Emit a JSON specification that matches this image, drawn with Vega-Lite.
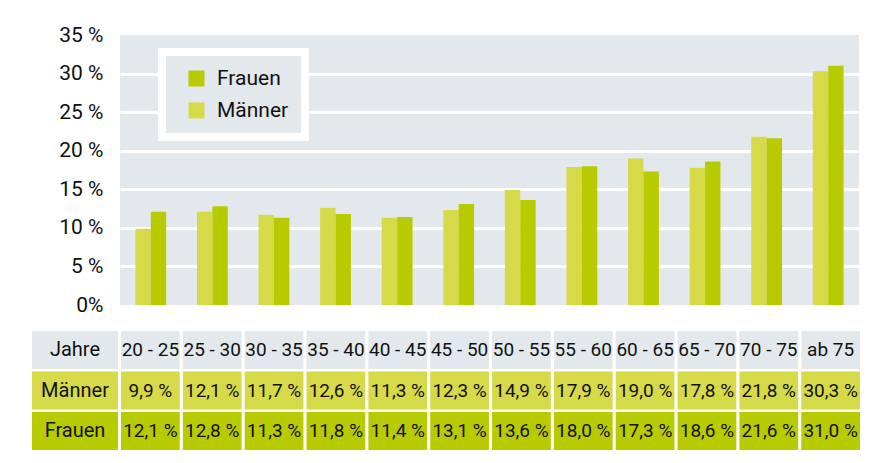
{
  "$schema": "https://vega.github.io/schema/vega-lite/v6.json",
  "background": "white",
  "padding": {"left": 32, "top": 24, "right": 8, "bottom": 4},
  "config": {
    "font": "Roboto",
    "view": {"stroke": null}
  },
  "datasets": {
    "d": [
      {"age": "20 - 25", "sex": "Männer", "value": 9.9},
      {"age": "20 - 25", "sex": "Frauen", "value": 12.1},
      {"age": "25 - 30", "sex": "Männer", "value": 12.1},
      {"age": "25 - 30", "sex": "Frauen", "value": 12.8},
      {"age": "30 - 35", "sex": "Männer", "value": 11.7},
      {"age": "30 - 35", "sex": "Frauen", "value": 11.3},
      {"age": "35 - 40", "sex": "Männer", "value": 12.6},
      {"age": "35 - 40", "sex": "Frauen", "value": 11.8},
      {"age": "40 - 45", "sex": "Männer", "value": 11.3},
      {"age": "40 - 45", "sex": "Frauen", "value": 11.4},
      {"age": "45 - 50", "sex": "Männer", "value": 12.3},
      {"age": "45 - 50", "sex": "Frauen", "value": 13.1},
      {"age": "50 - 55", "sex": "Männer", "value": 14.9},
      {"age": "50 - 55", "sex": "Frauen", "value": 13.6},
      {"age": "55 - 60", "sex": "Männer", "value": 17.9},
      {"age": "55 - 60", "sex": "Frauen", "value": 18.0},
      {"age": "60 - 65", "sex": "Männer", "value": 19.0},
      {"age": "60 - 65", "sex": "Frauen", "value": 17.3},
      {"age": "65 - 70", "sex": "Männer", "value": 17.8},
      {"age": "65 - 70", "sex": "Frauen", "value": 18.6},
      {"age": "70 - 75", "sex": "Männer", "value": 21.8},
      {"age": "70 - 75", "sex": "Frauen", "value": 21.6},
      {"age": "ab 75", "sex": "Männer", "value": 30.3},
      {"age": "ab 75", "sex": "Frauen", "value": 31.0}
    ]
  },
  "data": {"name": "d"},
  "spacing": 16,
  "vconcat": [
    {
      "spacing": 2,
      "bounds": "flush",
      "hconcat": [
        {
          "width": 86,
          "height": 270,
          "data": {"values": [{"t": ""}]},
          "mark": {"type": "text"},
          "encoding": {"text": {"field": "t"}}
        },
        {
          "width": 739,
          "height": 270,
          "view": {"fill": "#e3e8ec", "stroke": null},
          "mark": {"type": "bar"},
          "encoding": {
            "x": {"field": "age", "type": "nominal", "sort": null,
                  "scale": {"paddingInner": 0.5, "paddingOuter": 0.25}, "axis": null},
            "xOffset": {"field": "sex", "type": "nominal", "scale": {"domain": ["Männer", "Frauen"]}},
            "y": {"field": "value", "type": "quantitative",
                  "scale": {"domain": [0, 35], "nice": false},
                  "axis": {
                    "title": null,
                    "values": [0, 5, 10, 15, 20, 25, 30, 35],
                    "labelExpr": "datum.value == 0 ? '0%' : datum.value + ' %'",
                    "grid": true,
                    "gridColor": {"condition": {"test": "datum.value == 0 || datum.value == 35", "value": null}, "value": "white"},
                    "gridWidth": 3,
                    "domain": false,
                    "ticks": false,
                    "labelFontSize": 21,
                    "labelPadding": 17,
                    "labelColor": "#111111"
                  }},
            "color": {"field": "sex", "type": "nominal",
                      "scale": {"domain": ["Frauen", "Männer"], "range": ["#b8cb00", "#d6da48"]},
                      "legend": {
                        "title": null,
                        "orient": "none",
                        "legendX": 130,
                        "legendY": 17,
                        "fillColor": "#e3e8ec",
                        "strokeColor": "white",
                        "padding": 16,
                        "symbolOffset": 8,
                        "symbolType": "square",
                        "symbolSize": 256,
                        "symbolStrokeWidth": 0,
                        "labelFontSize": 21,
                        "labelColor": "#111111",
                        "labelOffset": 10,
                        "rowPadding": 10,
                        "encode": {"legend": {"update": {"strokeWidth": {"value": 8}}}}
                      }}
          }
        }
      ]
    },
    {
      "spacing": 3,
      "hconcat": [
        {
          "width": 86,
          "height": 119,
          "data": {"values": [{"row": "Jahre"}, {"row": "Männer"}, {"row": "Frauen"}]},
          "encoding": {
            "x": {"datum": "c", "type": "nominal", "scale": {"paddingInner": 0, "paddingOuter": 0}, "axis": null},
            "y": {"field": "row", "type": "nominal",
                  "scale": {"domain": ["Jahre", "Männer", "Frauen"], "paddingInner": 0.06, "paddingOuter": 0},
                  "axis": null}
          },
          "layer": [
            {"mark": {"type": "rect"},
             "encoding": {"fill": {"field": "row", "type": "nominal",
                                   "scale": {"domain": ["Jahre", "Männer", "Frauen"], "range": ["#e3e8ec", "#d6da48", "#b8cb00"]},
                                   "legend": null}}},
            {"mark": {"type": "text", "fontSize": 20, "color": "#111111"},
             "encoding": {"text": {"field": "row"}}}
          ]
        },
        {
          "width": 739,
          "height": 119,
          "encoding": {
            "x": {"field": "age", "type": "nominal", "sort": null,
                  "scale": {"paddingInner": 0.05, "paddingOuter": 0}, "axis": null}
          },
          "layer": [
            {"transform": [{"filter": "datum.sex == 'Männer'"}],
             "mark": {"type": "rect"},
             "encoding": {
               "y": {"datum": "Jahre", "type": "nominal",
                     "scale": {"domain": ["Jahre", "Männer", "Frauen"], "paddingInner": 0.06, "paddingOuter": 0},
                     "axis": null},
               "fill": {"datum": "Jahre", "type": "nominal",
                        "scale": {"domain": ["Jahre", "Männer", "Frauen"], "range": ["#e3e8ec", "#d6da48", "#b8cb00"]},
                        "legend": null}
             }},
            {"transform": [{"filter": "datum.sex == 'Männer'"}],
             "mark": {"type": "text", "fontSize": 19, "color": "#111111"},
             "encoding": {
               "y": {"datum": "Jahre", "type": "nominal"},
               "text": {"field": "age"}
             }},
            {"mark": {"type": "rect"},
             "encoding": {
               "y": {"field": "sex", "type": "nominal"},
               "fill": {"field": "sex", "type": "nominal", "legend": null}
             }},
            {"transform": [{"calculate": "replace(format(datum.value, '.1f'), '.', ',') + ' %'", "as": "label"}],
             "mark": {"type": "text", "fontSize": 19, "color": "#111111"},
             "encoding": {
               "y": {"field": "sex", "type": "nominal"},
               "text": {"field": "label"}
             }}
          ]
        }
      ]
    }
  ]
}
